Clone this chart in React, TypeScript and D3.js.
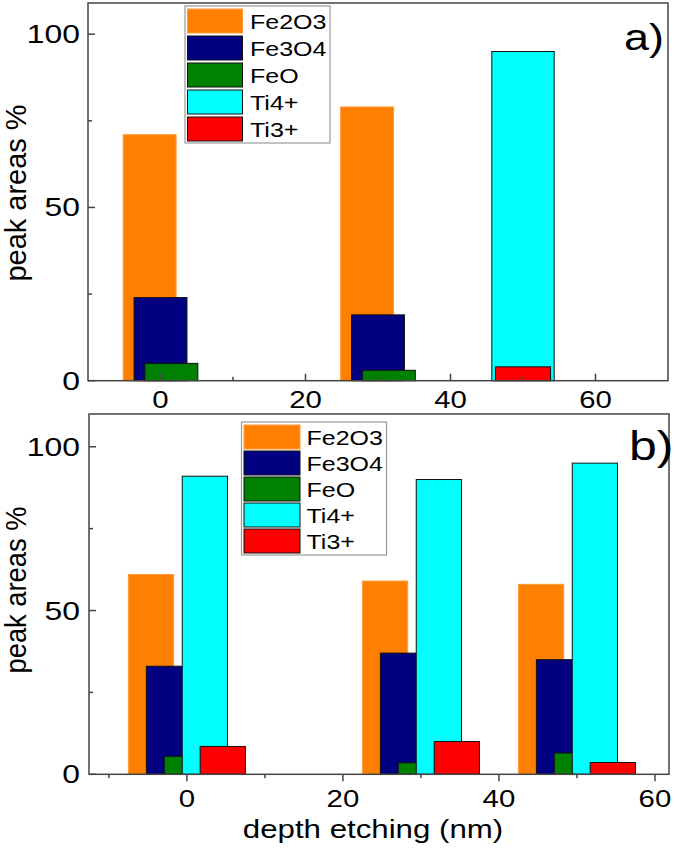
import React from 'react';
import * as d3 from 'd3';

// series order = draw order (later bars sit on top)
const seriesNames = ['Fe2O3', 'Fe3O4', 'FeO', 'Ti4+', 'Ti3+'];
const seriesColors = ['#FF8000', '#000080', '#008000', '#00FFFF', '#FF0000'];
const groupDepths = [0, 30, 50];

// panel a) values per series at each depth (null = no bar)
const valuesA = [
  [71, 79, null],
  [24, 19, null],
  [5, 3, null],
  [null, null, 95],
  [null, null, 4],
];
// panel b)
const valuesB = [
  [61, 59, 58],
  [33, 37, 35],
  [5.5, 3.5, 6.5],
  [91, 90, 95],
  [8.5, 10, 3.6],
];

const xMajorTicks = [0, 20, 40, 60];
const yMajorTicks = [0, 50, 100];
const yMinorTicks = [25, 75];

const FONT = '"Liberation Sans", Arial, Helvetica, sans-serif';
const SX = 1.25; // horizontal stretch of the original raster
const AXIS = '#444';

type Panel = {
  values: (number | null)[][];
  xDomain: [number, number];
  yMax: number;
  left: number; right: number; top: number; bottom: number;
  offsets: number[]; widths: number[];
  xMinor: number[];
  tickDir: number; // -1 inward (up), 1 outward (down)
  xLabelY: number;
  legend: { x: number; y: number; w: number; h: number; pitch: number; sw: number };
  tag: string; tagX: number; tagY: number; tagSize: number;
  yLabelCy: number; yLabelLen: number;
};

const panels: Panel[] = [
  {
    values: valuesA, xDomain: [-10, 70], yMax: 109,
    left: 88, right: 668, top: 3, bottom: 380.7,
    offsets: [-1.5, 0, 1.5, 0, 0], widths: [7.3, 7.3, 7.3, 8.6, 7.6],
    xMinor: [10, 30, 50], tickDir: -1, xLabelY: 408,
    legend: { x: 185, y: 6, w: 145, h: 137, pitch: 27, sw: 55 },
    tag: 'a)', tagX: 624, tagY: 50, tagSize: 36,
    yLabelCy: 193, yLabelLen: 177,
  },
  {
    values: valuesB, xDomain: [-12.55, 61.8], yMax: 110,
    left: 89, right: 669, top: 414, bottom: 774.3,
    offsets: [-4.6, -2.3, 0, 2.3, 4.6], widths: [5.8, 5.8, 5.8, 5.8, 5.8],
    xMinor: [-10, 10, 30, 50], tickDir: 1, xLabelY: 806.5,
    legend: { x: 241.5, y: 422, w: 145, h: 133, pitch: 26, sw: 56 },
    tag: 'b)', tagX: 629, tagY: 460, tagSize: 40,
    yLabelCy: 590, yLabelLen: 167,
  },
];

function stretched(x: number, y: number, s: number, anchor: string, text: string, key?: string) {
  return (
    <text key={key} transform={`translate(${x},${y}) scale(${SX},1)`} fontSize={s}
      textAnchor={anchor} fontFamily={FONT} fill="#000">{text}</text>
  );
}

function PanelView({ p }: { p: Panel }) {
  const x = d3.scaleLinear().domain(p.xDomain).range([p.left, p.right]);
  const y = d3.scaleLinear().domain([0, p.yMax]).range([p.bottom, p.top]);
  const lg = p.legend;
  return (
    <g>
      {p.values.map((vals, si) =>
        vals.map((v, gi) => {
          if (v == null) return null;
          const c = groupDepths[gi] + p.offsets[si];
          const x0 = x(c - p.widths[si] / 2);
          const x1 = x(c + p.widths[si] / 2);
          return (
            <rect key={`${si}-${gi}`} x={x0} y={y(v)} width={x1 - x0} height={y(0) - y(v)}
              fill={seriesColors[si]} stroke={si === 0 ? '#FF9A3C' : '#111'} strokeWidth={1} />
          );
        })
      )}
      <rect x={p.left} y={p.top} width={p.right - p.left} height={p.bottom - p.top}
        fill="none" stroke={AXIS} strokeWidth={1.5} />
      {xMajorTicks.map(t => (
        <g key={'xt' + t}>
          <line x1={x(t)} x2={x(t)} y1={p.bottom} y2={p.bottom + p.tickDir * 7} stroke={AXIS} strokeWidth={1.5} />
          {stretched(x(t), p.xLabelY, 23.5, 'middle', String(t))}
        </g>
      ))}
      {p.xMinor.map(t => (
        <line key={'xm' + t} x1={x(t)} x2={x(t)} y1={p.bottom} y2={p.bottom + p.tickDir * 4} stroke={AXIS} strokeWidth={1.5} />
      ))}
      {yMajorTicks.map(t => (
        <g key={'yt' + t}>
          <line x1={p.left} x2={p.left + 7} y1={y(t)} y2={y(t)} stroke={AXIS} strokeWidth={1.5} />
          {stretched(80, y(t) + 9, 25.5, 'end', String(t))}
        </g>
      ))}
      {yMinorTicks.map(t => (
        <line key={'ym' + t} x1={p.left} x2={p.left + 4} y1={y(t)} y2={y(t)} stroke={AXIS} strokeWidth={1.5} />
      ))}
      <text transform={`translate(26,${p.yLabelCy}) scale(1.15,1) rotate(-90)`} fontSize={25}
        textAnchor="middle" fontFamily={FONT} textLength={p.yLabelLen} lengthAdjust="spacingAndGlyphs">peak areas %</text>
      {stretched(p.tagX, p.tagY, p.tagSize, 'start', p.tag)}
      <g>
        <rect x={lg.x} y={lg.y} width={lg.w} height={lg.h} fill="#fff" stroke="#999" strokeWidth={1.2} />
        {seriesNames.map((n, i) => (
          <g key={n}>
            <rect x={lg.x + 2.5} y={lg.y + 3 + i * lg.pitch} width={lg.sw} height={24}
              fill={seriesColors[i]} stroke={i === 0 ? '#FF9A3C' : '#111'} strokeWidth={1} />
            {stretched(lg.x + 65, lg.y + 3 + i * lg.pitch + 19.5, 20, 'start', n)}
          </g>
        ))}
      </g>
    </g>
  );
}

export default function App() {
  return (
    <svg width={675} height={848} style={{ position: 'absolute', left: 0, top: 0, background: '#fff' }}>
      <rect width={675} height={848} fill="#fff" />
      {panels.map((p, i) => <PanelView key={i} p={p} />)}
      {stretched(373, 838, 25, 'middle', 'depth etching (nm)')}
    </svg>
  );
}
